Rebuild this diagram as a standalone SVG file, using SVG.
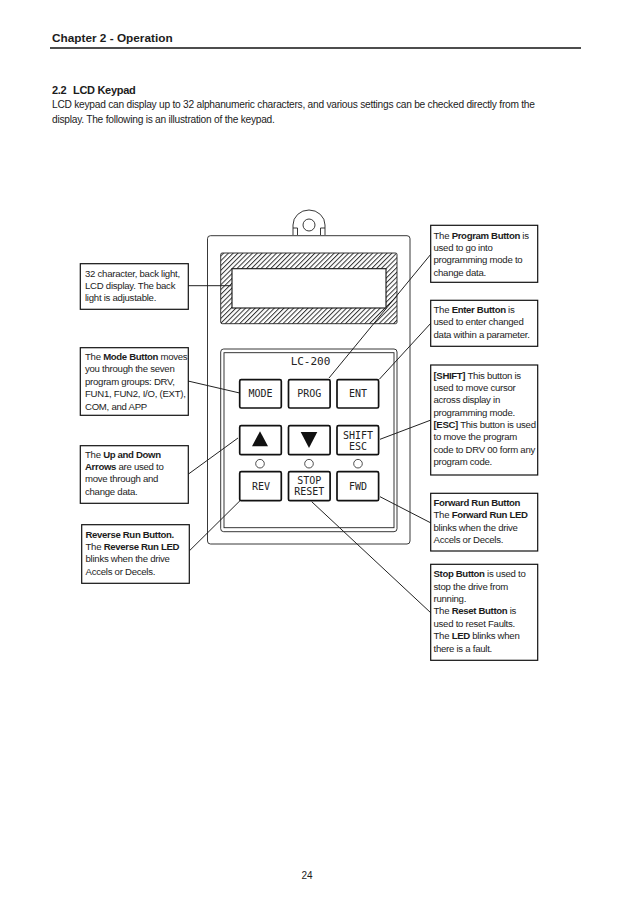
<svg xmlns="http://www.w3.org/2000/svg" width="638" height="903" viewBox="0 0 638 903">
<style>
text{font-family:"Liberation Sans",Arial,sans-serif;fill:#1c1c1c}
.n{font-size:9.6px;letter-spacing:-.26px}
.b{font-weight:700}
.n .b{letter-spacing:-.34px}
.box{fill:#fff;stroke:#111;stroke-width:1.2}
.ln{fill:none;stroke:#222;stroke-width:1}
.btn{fill:#fff;stroke:#111;stroke-width:1.7}
.m{font-family:"DejaVu Sans Mono",monospace;font-size:10px;text-anchor:middle;fill:#222}
.p{font-size:10.2px;letter-spacing:-.245px}
.led{fill:#fff;stroke:#222;stroke-width:.8}
.o{fill:none;stroke:#222;stroke-width:.9}
</style>
<defs>
<pattern id="h" width="3.4" height="3.4" patternUnits="userSpaceOnUse" patternTransform="rotate(-45)"><rect width="3.4" height="3.4" fill="#fff"/><rect width="3.4" height="1" fill="#333"/></pattern>
</defs>
<rect width="638" height="903" fill="#fff"/>
<g id="header">
<text x="52" y="41.700" class="b" font-size="11.800">Chapter 2 - Operation</text>
<rect x="50" y="47.200" width="531" height="1.600" fill="#222"/>
<text y="94" class="b" font-size="11" letter-spacing="-.3"><tspan x="52">2.2</tspan><tspan x="73">LCD Keypad</tspan></text>
<text x="52" y="107.500" class="p">LCD keypad can display up to 32 alphanumeric characters, and various settings can be checked directly from the</text>
<text x="52" y="122.500" class="p">display. The following is an illustration of the keypad.</text>
</g>
<g id="keypad">
<path class="o" d="M293 235V225A16 15 0 0 1 325 225V235M293 228H297.500V235M325 228H320.500V235"/>
<circle class="o" cx="309" cy="225" r="6"/>
<rect class="o" x="207.500" y="235.700" width="202.500" height="308.300" rx="3"/>
<rect x="220.700" y="253" width="176.300" height="70.700" rx="1.500" fill="url(#h)" stroke="#222" stroke-width=".9"/>
<rect x="232" y="268.700" width="154" height="39.300" fill="#fff" stroke="#111" stroke-width="1.100"/>
<rect class="o" x="220.700" y="349" width="176.300" height="182.700" rx="3"/>
<rect class="o" x="224" y="352.700" width="170" height="175"/>
<text class="m" x="310.500" y="365" style="font-size:11px">LC-200</text>
</g>
<g id="connectors" class="ln">
<path d="M188 285.700H231"/>
<path d="M188 381L239.700 393"/>
<path d="M188.500 474L238 438"/>
<path d="M189.500 550.700L240 500.700"/>
<path d="M431 254L329 378"/>
<path d="M431 323L379.300 379.300"/>
<path d="M431 420L380 439.300"/>
<path d="M431 523L380 496.700"/>
<path d="M431 613L311.700 501.700"/>
</g>
<g id="btn-mode"><rect class="btn" x="239.700" y="379.700" width="41.600" height="28.300" rx="1.500"/><text class="m" x="260.500" y="397">MODE</text></g>
<g id="btn-prog"><rect class="btn" x="288.500" y="379.700" width="41.600" height="28.300" rx="1.500"/><text class="m" x="309.300" y="397">PROG</text></g>
<g id="btn-ent"><rect class="btn" x="337" y="379.700" width="41.600" height="28.300" rx="1.500"/><text class="m" x="358" y="397">ENT</text></g>
<g id="btn-up"><rect class="btn" x="239.700" y="425.700" width="41.600" height="29" rx="1.500"/><path d="M260 431.300L268 446.300H252Z" fill="#111"/></g>
<g id="btn-down"><rect class="btn" x="288.500" y="425.700" width="41.600" height="29" rx="1.500"/><path d="M300.700 432H317.300L309 448Z" fill="#111"/></g>
<g id="btn-shift"><rect class="btn" x="337" y="425.700" width="41.600" height="29" rx="1.500"/><text class="m" x="358" y="438.700">SHIFT</text><text class="m" x="358" y="450">ESC</text></g>
<g id="leds"><circle class="led" cx="260" cy="463.700" r="4.300"/><circle class="led" cx="309" cy="463.700" r="4.300"/><circle class="led" cx="358" cy="463.700" r="4.300"/></g>
<g id="btn-rev"><rect class="btn" x="239.700" y="471.700" width="41.600" height="29" rx="1.500"/><text class="m" x="261" y="490">REV</text></g>
<g id="btn-stop"><rect class="btn" x="288.500" y="471.700" width="41.600" height="29" rx="1.500"/><text class="m" x="309.300" y="484.300">STOP</text><text class="m" x="309.300" y="495">RESET</text></g>
<g id="btn-fwd"><rect class="btn" x="337" y="471.700" width="41.600" height="29" rx="1.500"/><text class="m" x="358" y="490">FWD</text></g>
<g id="note-lcd"><rect class="box" x="80.300" y="263.700" width="108" height="45.600"/>
<text class="n" x="85" y="277">32 character, back light,</text><text class="n" x="85" y="289">LCD display. The back</text><text class="n" x="85" y="301">light is adjustable.</text></g>
<g id="note-mode"><rect class="box" x="80.300" y="347.700" width="108" height="67.600"/>
<text class="n" x="85" y="359.500">The <tspan class="b">Mode Button</tspan> moves</text><text class="n" x="85" y="372">you through the seven</text><text class="n" x="85" y="384.500">program groups: DRV,</text><text class="n" x="85" y="397">FUN1, FUN2, I/O, (EXT),</text><text class="n" x="85" y="409.500">COM, and APP</text></g>
<g id="note-arrows"><rect class="box" x="80.300" y="445.700" width="108" height="57.600"/>
<text class="n" x="85" y="458">The <tspan class="b">Up and Down</tspan></text><text class="n" x="85" y="470"><tspan class="b">Arrows</tspan> are used to</text><text class="n" x="85" y="482">move through and</text><text class="n" x="85" y="494.500">change data.</text></g>
<g id="note-rev"><rect class="box" x="81.700" y="524.700" width="107.600" height="58.600"/>
<text class="n" x="85.500" y="537.500"><tspan class="b">Reverse Run Button.</tspan></text><text class="n" x="85.500" y="550">The <tspan class="b">Reverse Run LED</tspan></text><text class="n" x="85.500" y="562">blinks when the drive</text><text class="n" x="85.500" y="574.500">Accels or Decels.</text></g>
<g id="note-prog"><rect class="box" x="430.700" y="225.300" width="107" height="57"/>
<text class="n" x="433.500" y="238.500">The <tspan class="b">Program Button</tspan> is</text><text class="n" x="433.500" y="251">used to go into</text><text class="n" x="433.500" y="263">programming mode to</text><text class="n" x="433.500" y="275.500">change data.</text></g>
<g id="note-ent"><rect class="box" x="430.700" y="300.300" width="107" height="46"/>
<text class="n" x="433.500" y="313">The <tspan class="b">Enter Button</tspan> is</text><text class="n" x="433.500" y="325">used to enter changed</text><text class="n" x="433.500" y="337.500">data within a parameter.</text></g>
<g id="note-shift"><rect class="box" x="430.700" y="365" width="107" height="110"/>
<text class="n" x="433.500" y="378.500"><tspan class="b">[SHIFT]</tspan> This button is</text><text class="n" x="433.500" y="391">used to move cursor</text><text class="n" x="433.500" y="403">across display in</text><text class="n" x="433.500" y="415.500">programming mode.</text><text class="n" x="433.500" y="428"><tspan class="b">[ESC]</tspan> This button is used</text><text class="n" x="433.500" y="440">to move the program</text><text class="n" x="433.500" y="452.500">code to DRV 00 form any</text><text class="n" x="433.500" y="465">program code.</text></g>
<g id="note-fwd"><rect class="box" x="430.700" y="493.300" width="107" height="57.700"/>
<text class="n" x="433.500" y="506"><tspan class="b">Forward Run Button</tspan></text><text class="n" x="433.500" y="518">The <tspan class="b">Forward Run LED</tspan></text><text class="n" x="433.500" y="530.500">blinks when the drive</text><text class="n" x="433.500" y="543">Accels or Decels.</text></g>
<g id="note-stop"><rect class="box" x="430.700" y="564.300" width="107" height="96"/>
<text class="n" x="433.500" y="577"><tspan class="b">Stop Button</tspan> is used to</text><text class="n" x="433.500" y="589.500">stop the drive from</text><text class="n" x="433.500" y="602">running.</text><text class="n" x="433.500" y="614">The <tspan class="b">Reset Button</tspan> is</text><text class="n" x="433.500" y="626.500">used to reset Faults.</text><text class="n" x="433.500" y="639">The <tspan class="b">LED</tspan> blinks when</text><text class="n" x="433.500" y="651.500">there is a fault.</text></g>
<text x="307" y="879" font-size="10" text-anchor="middle">24</text>
</svg>
